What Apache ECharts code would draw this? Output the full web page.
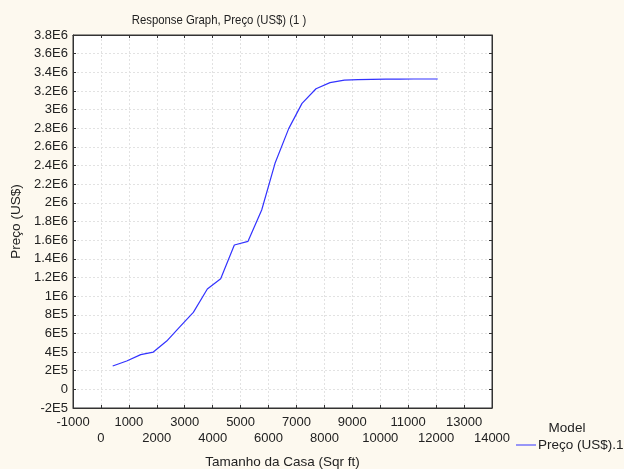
<!DOCTYPE html>
<html>
<head>
<meta charset="utf-8">
<script src="https://cdn.jsdelivr.net/npm/echarts@6/dist/echarts.min.js"></script>
<style>
html,body{margin:0;padding:0;background:#fdf9ef;}
#c{width:624px;height:469px;}
</style>
</head>
<body>
<div id="c"></div>
<script>
var xValues = [421, 922, 1424, 1876, 2354, 2831, 3308, 3809, 4287, 4776, 5266, 5755, 6232, 6722, 7199, 7700, 8200, 8714, 9200, 9700, 10200, 10700, 11200, 11700, 12057];
var yValues = [250000, 304000, 372000, 400000, 518000, 672000, 826000, 1076000, 1187000, 1548000, 1587000, 1923000, 2424000, 2796000, 3067000, 3224000, 3289000, 3317000, 3322000, 3325000, 3326000, 3327000, 3328000, 3328000, 3328000];
var yTickValues = [-200000, 0, 200000, 400000, 600000, 800000, 1000000, 1200000, 1400000, 1600000, 1800000, 2000000, 2200000, 2400000, 2600000, 2800000, 3000000, 3200000, 3400000, 3600000, 3800000];
var yTickLabels = ['-2E5', '0', '2E5', '4E5', '6E5', '8E5', '1E6', '1.2E6', '1.4E6', '1.6E6', '1.8E6', '2E6', '2.2E6', '2.4E6', '2.6E6', '2.8E6', '3E6', '3.2E6', '3.4E6', '3.6E6', '3.8E6'];
var xTickLabels = ['-1000', '0', '1000', '2000', '3000', '4000', '5000', '6000', '7000', '8000', '9000', '10000', '11000', '12000', '13000', '14000'];

var FONT = 'Liberation Sans, Arial, sans-serif';
var chart = echarts.init(document.getElementById('c'), null, {renderer: 'canvas'});
var pts = xValues.map(function (x, i) { return [x, yValues[i]]; });

function yLabel(v) {
  for (var i = 0; i < yTickValues.length; i++) {
    if (Math.abs(yTickValues[i] - v) < 1) return yTickLabels[i];
  }
  return '';
}
function xLabelOdd(v) {
  var idx = Math.round((v + 1000) / 1000);
  return Math.abs(Math.round(v / 1000)) % 2 === 1 ? (xTickLabels[idx] || '') : '';
}
function xLabelEven(v) {
  var idx = Math.round((v + 1000) / 1000);
  return Math.abs(Math.round(v / 1000)) % 2 === 0 ? (xTickLabels[idx] || '') : '';
}

var axisLineStyle = {color: '#333', width: 1};
var labelStyle = {fontSize: 13, fontFamily: FONT, color: '#222'};
var option = {
  backgroundColor: '#fdf9ef',
  animation: false,
  textStyle: {fontFamily: FONT},
  grid: {left: 73, top: 35, right: 132, bottom: 61, outerBoundsMode: 'none', containLabel: false, show: true, backgroundColor: '#ffffff', borderColor: '#333', borderWidth: 1},
  graphic: [
    {type: 'text', x: 219, y: 20, scaleX: 0.84, originX: 0, originY: 0, style: {text: 'Response Graph, Preço (US$) (1 )', fontSize: 13.5, fontFamily: FONT, fill: '#222', align: 'center', verticalAlign: 'middle'}},
    {type: 'text', x: 567, y: 428, style: {text: 'Model', fontSize: 13.5, fontFamily: FONT, fill: '#222', align: 'center', verticalAlign: 'middle'}}
  ],
  legend: {
    left: 511, top: 433, itemWidth: 20, itemHeight: 1, itemGap: 4, icon: 'rect',
    textStyle: {fontSize: 13.5, fontFamily: FONT, color: '#222', padding: [0, 0, 0, -3]},
    data: [{name: 'Preço (US$).1'}]
  },
  xAxis: [{
    type: 'value', min: -1000, max: 14000, interval: 1000,
    name: 'Tamanho da Casa (Sqr ft)', nameLocation: 'middle', nameGap: 47,
    nameTextStyle: {fontSize: 13.5, fontFamily: FONT, color: '#222'},
    axisLine: {show: true, onZero: false, lineStyle: axisLineStyle},
    axisTick: {show: true, inside: true, length: 3, lineStyle: axisLineStyle},
    axisLabel: Object.assign({formatter: xLabelOdd, margin: 8, hideOverlap: false}, labelStyle),
    splitLine: {show: true, lineStyle: {color: '#e2e2e2', type: [2, 2]}}
  }, {
    type: 'value', position: 'top', min: -1000, max: 14000, interval: 1000,
    axisLine: {show: true, onZero: false, lineStyle: axisLineStyle},
    axisTick: {show: true, inside: true, length: 3, lineStyle: axisLineStyle},
    axisLabel: {show: false}, splitLine: {show: false}
  }, {
    type: 'value', position: 'bottom', offset: 0, min: -1000, max: 14000, interval: 1000,
    axisLine: {show: false, onZero: false},
    axisTick: {show: false},
    axisLabel: Object.assign({formatter: xLabelEven, margin: 24, hideOverlap: false}, labelStyle),
    splitLine: {show: false}
  }],
  yAxis: [{
    type: 'value', min: -200000, max: 3800000, interval: 200000,
    name: 'Preço (US$)', nameLocation: 'middle', nameGap: 49,
    nameTextStyle: {fontSize: 13.5, fontFamily: FONT, color: '#222'},
    axisLine: {show: true, onZero: false, lineStyle: axisLineStyle},
    axisTick: {show: true, inside: true, length: 3, lineStyle: axisLineStyle},
    axisLabel: Object.assign({formatter: yLabel, margin: 5, hideOverlap: false}, labelStyle),
    splitLine: {show: true, lineStyle: {color: '#e2e2e2', type: [2, 2]}}
  }, {
    type: 'value', position: 'right', min: -200000, max: 3800000, interval: 200000,
    axisLine: {show: true, onZero: false, lineStyle: axisLineStyle},
    axisTick: {show: true, inside: true, length: 3, lineStyle: axisLineStyle},
    axisLabel: {show: false}, splitLine: {show: false}
  }],
  series: [{
    name: 'Preço (US$).1', type: 'line', data: pts, showSymbol: false, symbol: 'none',
    lineStyle: {color: '#3333ff', width: 1.2}, itemStyle: {color: '#3333ff'}
  }]
};
chart.setOption(option);
</script>
</body>
</html>
